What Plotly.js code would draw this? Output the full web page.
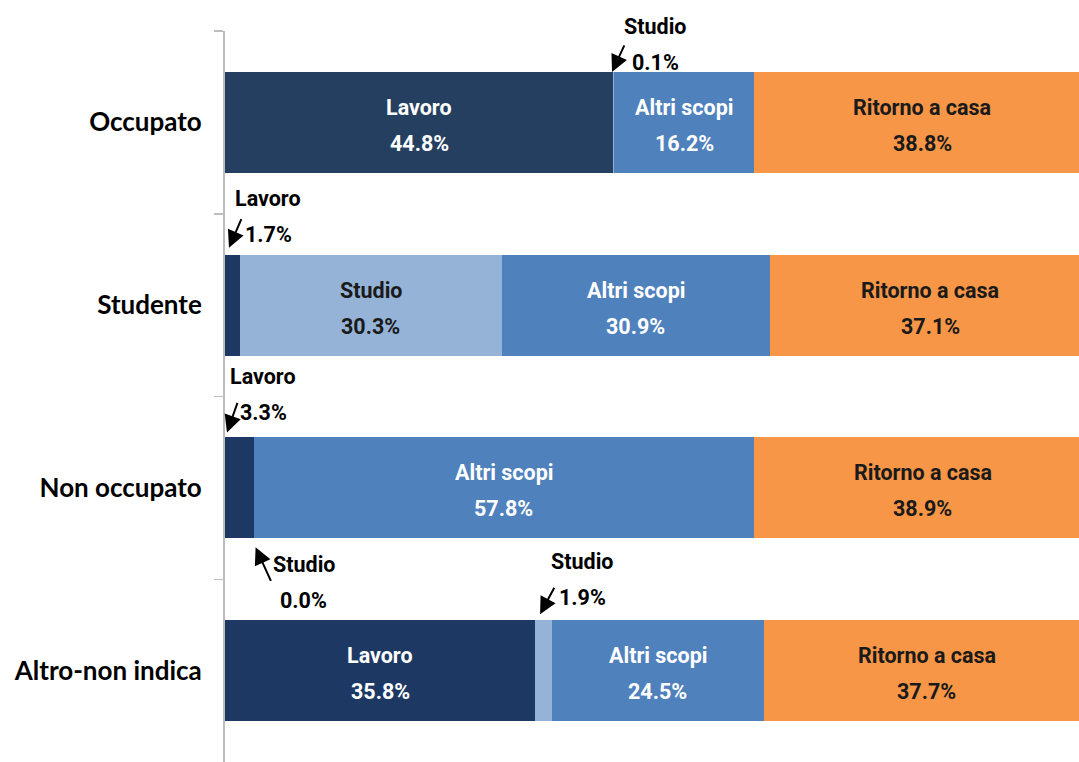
<!DOCTYPE html>
<html>
<head>
<meta charset="utf-8">
<script src="https://cdn.plot.ly/plotly-3.0.1.min.js"></script>
<style>html,body{margin:0;padding:0;background:#fff;}#chart{width:1079px;height:762px;}</style>
</head>
<body>
<div id="chart"></div>
<script>
// ---- data ----
const categories = ["Occupato", "Studente", "Non occupato", "Altro-non indica"];
const seriesNames = ["Lavoro", "Studio", "Altri scopi", "Ritorno a casa"];
const lavoro   = [44.8, 1.7, 3.3, 35.8];
const studio   = [0.1, 30.3, 0.0, 1.9];
const altri    = [16.2, 30.9, 57.8, 24.5];
const ritorno  = [38.8, 37.1, 38.9, 37.7];

// ---- styles ----
const lavoroColors = ["#253F60", "#1D3863", "#1D3863", "#1D3863"];
const seriesColors = [lavoroColors, "#95B3D7", "#4F81BD", "#F79646"];
const textColors = ["#FFFFFF", "#1A1A1A", "#FFFFFF", "#1A1A1A"];
const labelFont = "Roboto, Liberation Sans, sans-serif";
const labelSize = 21.5;
const lineHalf = 18;   // half distance between the two label lines (px)
const textNudge = -3;  // small vertical optical correction (px)
const minInside = 5;   // segments below this get an external callout

const allSeries = [lavoro, studio, altri, ritorno];
const fmt = v => v.toFixed(1) + "%";

const traces = allSeries.map((vals, s) => ({
  type: "bar",
  orientation: "h",
  name: seriesNames[s],
  y: categories,
  x: vals,
  marker: {color: seriesColors[s], line: {width: 0}},
  hoverinfo: "skip"
}));

const annotations = [];
function twoLines(x, y, name, value, color, dx, dy) {
  const base = {x: x, y: y, xref: "x", yref: "y", showarrow: false,
    xanchor: "center", yanchor: "middle",
    font: {family: labelFont, size: labelSize, color: color, weight: "bold"}};
  annotations.push(Object.assign({}, base, {text: name, xshift: dx, yshift: dy + textNudge + lineHalf}));
  annotations.push(Object.assign({}, base, {text: value, xshift: dx, yshift: dy + textNudge - lineHalf}));
}

// inside labels
categories.forEach((cat, i) => {
  let cum = 0;
  allSeries.forEach((vals, s) => {
    const v = vals[i];
    if (v >= minInside) twoLines(cum + v / 2, i, seriesNames[s], fmt(v), textColors[s], 0, 0);
    cum += v;
  });
});

// ---- callouts for small segments (arrow tip offsets/tail & text offsets in px) ----
const callouts = [
  {cat: 0, s: 1, edge: -1, tip: [-1, 0],  tail: [13, -28], txt: [42, 30]},
  {cat: 1, s: 0, edge: -1, tip: [4, 7],   tail: [13, -30], txt: [43, 41]},
  {cat: 2, s: 0, edge: -1, tip: [2, 5],   tail: [11, -31], txt: [38, 46]},
  {cat: 2, s: 1, edge: 1,  tip: [2, -9],  tail: [16, 35],  txt: [50, -41]},
  {cat: 3, s: 1, edge: -1, tip: [5, 6],   tail: [15, -28], txt: [47, 44]}
];
const halfBar = 0.276;
callouts.forEach(c => {
  let start = 0;
  for (let k = 0; k < c.s; k++) start += allSeries[k][c.cat];
  const yEdge = c.cat + c.edge * halfBar;
  annotations.push({
    x: start, y: yEdge, xref: "x", yref: "y",
    xshift: c.tip[0], yshift: c.tip[1],
    text: "", showarrow: true, arrowhead: 2, arrowsize: 1.7, arrowwidth: 2,
    arrowcolor: "#000000", ax: c.tail[0], ay: c.tail[1], standoff: 0
  });
  twoLines(start, yEdge, seriesNames[c.s], fmt(allSeries[c.s][c.cat]), "#000000", c.txt[0], c.txt[1]);
});

const layout = {
  width: 1079, height: 762,
  margin: {l: 225, r: 0, t: 31, b: 0, pad: 0},
  barmode: "stack",
  bargap: 0.448,
  showlegend: false,
  paper_bgcolor: "#FFFFFF", plot_bgcolor: "#FFFFFF",
  xaxis: {range: [0, 98.6], visible: false, fixedrange: true},
  yaxis: {
    type: "category",
    categoryorder: "array", categoryarray: categories,
    range: [3.5, -0.5],
    showline: true, linecolor: "#BDBDBD", linewidth: 2,
    ticks: "outside", tickson: "boundaries", ticklen: 9, tickcolor: "#BDBDBD", tickwidth: 1.5,
    ticklabelstandoff: 16,
    tickfont: {family: "Lato, sans-serif", size: 26, color: "#000000", weight: "bold"},
    showgrid: false, zeroline: false, fixedrange: true
  },
  annotations: annotations
};

Plotly.newPlot("chart", traces, layout, {displayModeBar: false, staticPlot: true});
</script>
</body>
</html>
